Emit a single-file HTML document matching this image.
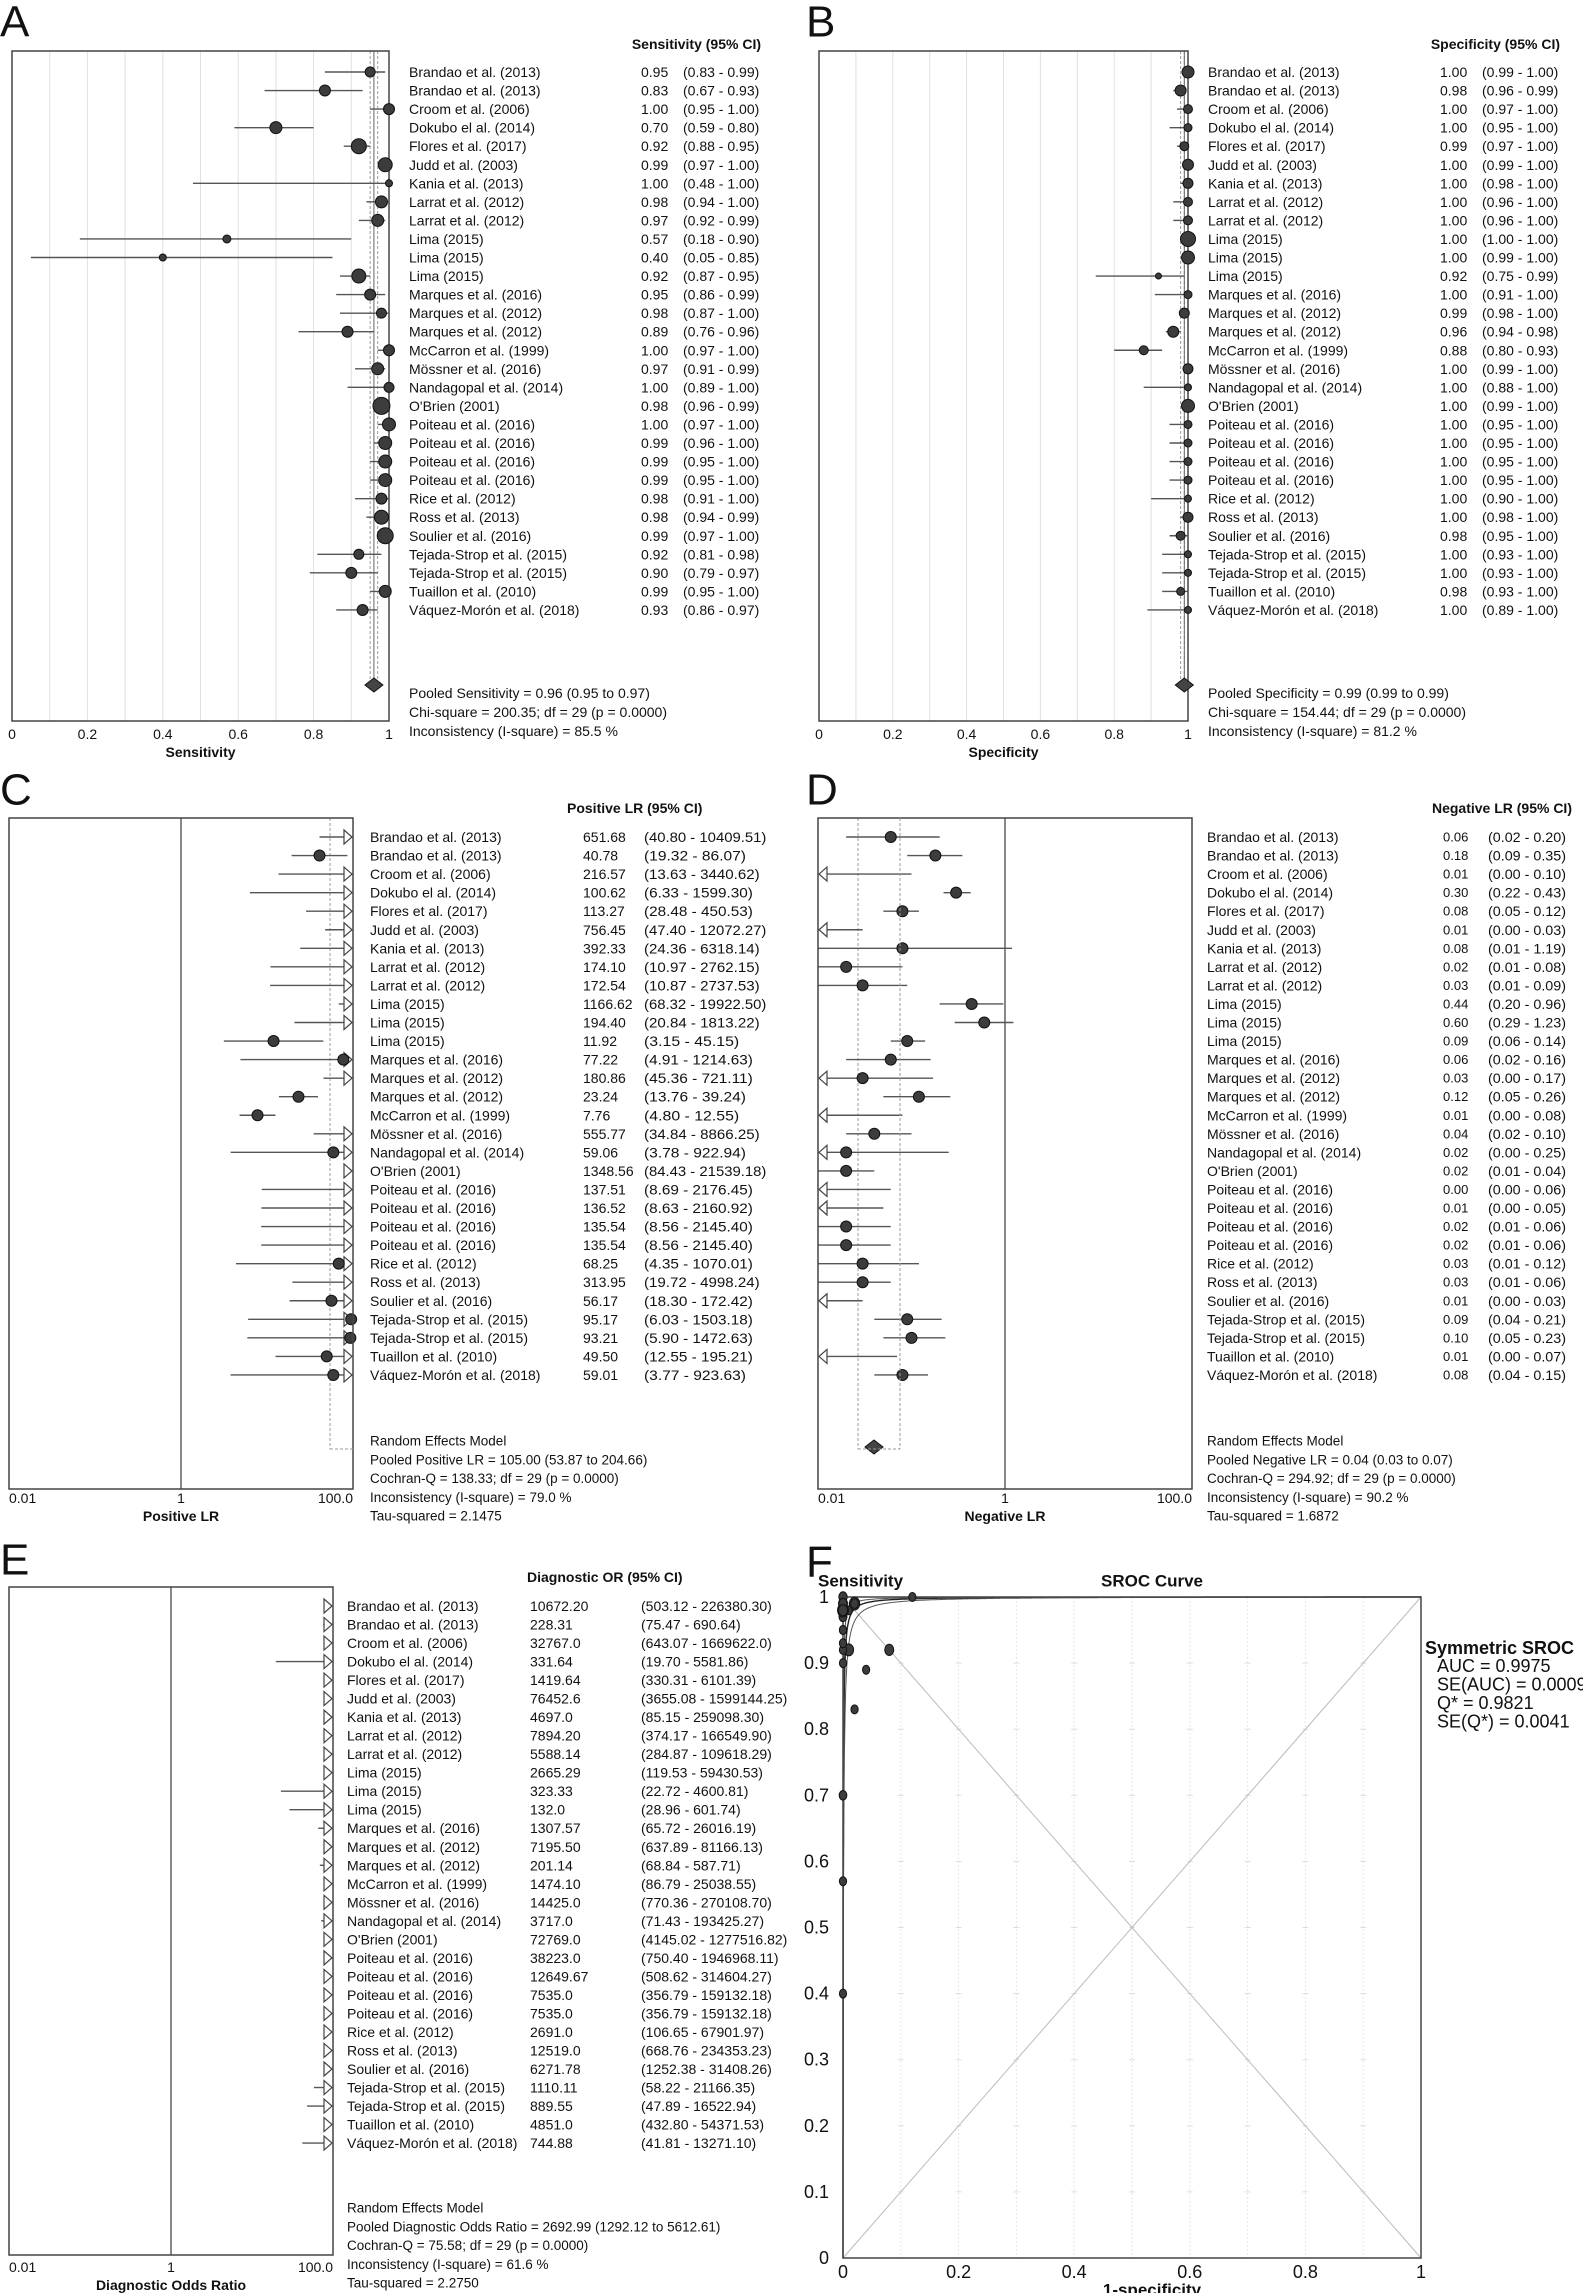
<!DOCTYPE html>
<html><head><meta charset="utf-8"><style>html,body{margin:0;padding:0;background:#fff}svg{display:block}text{font-family:"Liberation Sans",Arial,sans-serif;fill:#111}</style></head>
<body>
<svg id="s" xmlns="http://www.w3.org/2000/svg" width="1583" height="2293" viewBox="0 0 1583 2293"></svg>
<script>
const names=["Brandao et al. (2013)","Brandao et al. (2013)","Croom et al. (2006)","Dokubo el al. (2014)","Flores et al. (2017)","Judd et al. (2003)","Kania et al. (2013)","Larrat et al. (2012)","Larrat et al. (2012)","Lima (2015)","Lima (2015)","Lima (2015)","Marques et al. (2016)","Marques et al. (2012)","Marques et al. (2012)","McCarron et al. (1999)","Mössner et al. (2016)","Nandagopal et al. (2014)","O'Brien (2001)","Poiteau et al. (2016)","Poiteau et al. (2016)","Poiteau et al. (2016)","Poiteau et al. (2016)","Rice et al. (2012)","Ross et al. (2013)","Soulier et al. (2016)","Tejada-Strop et al. (2015)","Tejada-Strop et al. (2015)","Tuaillon et al. (2010)","Váquez-Morón et al. (2018)"];
const A=[["0.95","0.83","0.99",5],["0.83","0.67","0.93",5.5],["1.00","0.95","1.00",5.5],["0.70","0.59","0.80",6],["0.92","0.88","0.95",7.5],["0.99","0.97","1.00",7],["1.00","0.48","1.00",3.5],["0.98","0.94","1.00",6],["0.97","0.92","0.99",6],["0.57","0.18","0.90",4],["0.40","0.05","0.85",3.5],["0.92","0.87","0.95",7],["0.95","0.86","0.99",5.5],["0.98","0.87","1.00",5],["0.89","0.76","0.96",5.5],["1.00","0.97","1.00",5.5],["0.97","0.91","0.99",6],["1.00","0.89","1.00",5],["0.98","0.96","0.99",8.5],["1.00","0.97","1.00",6.5],["0.99","0.96","1.00",6.5],["0.99","0.95","1.00",6.5],["0.99","0.95","1.00",6.5],["0.98","0.91","1.00",5.5],["0.98","0.94","0.99",7],["0.99","0.97","1.00",8],["0.92","0.81","0.98",5],["0.90","0.79","0.97",5.5],["0.99","0.95","1.00",6],["0.93","0.86","0.97",5.5]];
const B=[["1.00","0.99","1.00",6],["0.98","0.96","0.99",5.5],["1.00","0.97","1.00",4.5],["1.00","0.95","1.00",4],["0.99","0.97","1.00",4.5],["1.00","0.99","1.00",5.5],["1.00","0.98","1.00",5],["1.00","0.96","1.00",4.5],["1.00","0.96","1.00",4.5],["1.00","1.00","1.00",7.5],["1.00","0.99","1.00",6.5],["0.92","0.75","0.99",3],["1.00","0.91","1.00",4],["0.99","0.98","1.00",5],["0.96","0.94","0.98",5.5],["0.88","0.80","0.93",4.5],["1.00","0.99","1.00",5],["1.00","0.88","1.00",3.5],["1.00","0.99","1.00",6.5],["1.00","0.95","1.00",4],["1.00","0.95","1.00",4],["1.00","0.95","1.00",4],["1.00","0.95","1.00",4],["1.00","0.90","1.00",3.5],["1.00","0.98","1.00",5],["0.98","0.95","1.00",4.5],["1.00","0.93","1.00",3.5],["1.00","0.93","1.00",3.5],["0.98","0.93","1.00",4],["1.00","0.89","1.00",3.5]];
const C=[["651.68","40.80","10409.51"],["40.78","19.32","86.07"],["216.57","13.63","3440.62"],["100.62","6.33","1599.30"],["113.27","28.48","450.53"],["756.45","47.40","12072.27"],["392.33","24.36","6318.14"],["174.10","10.97","2762.15"],["172.54","10.87","2737.53"],["1166.62","68.32","19922.50"],["194.40","20.84","1813.22"],["11.92","3.15","45.15"],["77.22","4.91","1214.63"],["180.86","45.36","721.11"],["23.24","13.76","39.24"],["7.76","4.80","12.55"],["555.77","34.84","8866.25"],["59.06","3.78","922.94"],["1348.56","84.43","21539.18"],["137.51","8.69","2176.45"],["136.52","8.63","2160.92"],["135.54","8.56","2145.40"],["135.54","8.56","2145.40"],["68.25","4.35","1070.01"],["313.95","19.72","4998.24"],["56.17","18.30","172.42"],["95.17","6.03","1503.18"],["93.21","5.90","1472.63"],["49.50","12.55","195.21"],["59.01","3.77","923.63"]];
const D=[["0.06","0.02","0.20"],["0.18","0.09","0.35"],["0.01","0.00","0.10"],["0.30","0.22","0.43"],["0.08","0.05","0.12"],["0.01","0.00","0.03"],["0.08","0.01","1.19"],["0.02","0.01","0.08"],["0.03","0.01","0.09"],["0.44","0.20","0.96"],["0.60","0.29","1.23"],["0.09","0.06","0.14"],["0.06","0.02","0.16"],["0.03","0.00","0.17"],["0.12","0.05","0.26"],["0.01","0.00","0.08"],["0.04","0.02","0.10"],["0.02","0.00","0.25"],["0.02","0.01","0.04"],["0.00","0.00","0.06"],["0.01","0.00","0.05"],["0.02","0.01","0.06"],["0.02","0.01","0.06"],["0.03","0.01","0.12"],["0.03","0.01","0.06"],["0.01","0.00","0.03"],["0.09","0.04","0.21"],["0.10","0.05","0.23"],["0.01","0.00","0.07"],["0.08","0.04","0.15"]];
const E=[["10672.20","503.12","226380.30"],["228.31","75.47","690.64"],["32767.0","643.07","1669622.0"],["331.64","19.70","5581.86"],["1419.64","330.31","6101.39"],["76452.6","3655.08","1599144.25"],["4697.0","85.15","259098.30"],["7894.20","374.17","166549.90"],["5588.14","284.87","109618.29"],["2665.29","119.53","59430.53"],["323.33","22.72","4600.81"],["132.0","28.96","601.74"],["1307.57","65.72","26016.19"],["7195.50","637.89","81166.13"],["201.14","68.84","587.71"],["1474.10","86.79","25038.55"],["14425.0","770.36","270108.70"],["3717.0","71.43","193425.27"],["72769.0","4145.02","1277516.82"],["38223.0","750.40","1946968.11"],["12649.67","508.62","314604.27"],["7535.0","356.79","159132.18"],["7535.0","356.79","159132.18"],["2691.0","106.65","67901.97"],["12519.0","668.76","234353.23"],["6271.78","1252.38","31408.26"],["1110.11","58.22","21166.35"],["889.55","47.89","16522.94"],["4851.0","432.80","54371.53"],["744.88","41.81","13271.10"]];
let o='';
function t(x,y,s,sz,anc,w,tl){o+=`<text x="${x}" y="${y}" font-size="${sz||14}" text-anchor="${anc||'start'}" font-weight="${w||'normal'}" dominant-baseline="central"${tl?` textLength="${tl}" lengthAdjust="spacingAndGlyphs"`:''}>${s}</text>`;}
function l(x1,y1,x2,y2,c,sw,da){o+=`<line x1="${x1}" y1="${y1}" x2="${x2}" y2="${y2}" stroke="${c||'#555'}" stroke-width="${sw||1.3}"${da?` stroke-dasharray="${da}"`:''}/>`;}
function dot(x,y,r){o+=`<circle cx="${x}" cy="${y}" r="${r}" fill="#3c3c3c" stroke="#111" stroke-width="1"/>`;}
function rect(x,y,w,h,c,sw){o+=`<rect x="${x}" y="${y}" width="${w}" height="${h}" fill="none" stroke="${c||'#444'}" stroke-width="${sw||1.3}"/>`;}
function arR(x,y){o+=`<polygon points="${x-8},${y-7} ${x},${y} ${x-8},${y+7}" fill="#fff" stroke="#444" stroke-width="1.2"/>`;}
function arL(x,y){o+=`<polygon points="${x+8},${y-7} ${x},${y} ${x+8},${y+7}" fill="#fff" stroke="#444" stroke-width="1.2"/>`;}
function diamond(x,y){o+=`<polygon points="${x-9},${y} ${x},${y-7} ${x+9},${y} ${x},${y+7}" fill="#444" stroke="#111"/>`;}
t(0,22,"A",44);t(806,22,"B",44);t(0,790,"C",44);t(806,790,"D",44);t(0,1560,"E",44);t(806,1562,"F",44);
function lin(bx0,bx1,data,hdr,pool,pl,ph,footer,xlab){
  const y0=51,y1=721,sc=v=>bx0+(bx1-bx0)*v;
  for(let k=1;k<10;k++)l(sc(k/10),y0,sc(k/10),y1,'#e0e0e0',1);
  l(sc(pl),y0,sc(pl),685,'#999',1,'3,2');l(sc(ph),y0,sc(ph),685,'#999',1,'3,2');l(sc(pool),y0,sc(pool),685,'#666',1);
  rect(bx0,y0,bx1-bx0,y1-y0,'#444',1.5);
  data.forEach((d,i)=>{const y=72+18.55*i;l(sc(+d[1]),y,sc(+d[2]),y,'#555',1.4);dot(sc(+d[0]),y,d[3]);
    t(bx1+20,y,names[i]);t(bx1+252,y,d[0]);t(bx1+294,y,`(${d[1]} - ${d[2]})`);});
  diamond(sc(pool),685);
  t(bx1+372,44,hdr,14,'end','bold');
  footer.forEach((s,i)=>t(bx1+20,693+19*i,s));
  ["0","0.2","0.4","0.6","0.8","1"].forEach((s,i)=>t(sc(i*0.2),734,s,14,'middle'));
  t((bx0+bx1)/2,752,xlab,14,'middle','bold');
}
lin(12,389,A,"Sensitivity (95% CI)",0.96,0.95,0.97,["Pooled Sensitivity = 0.96 (0.95 to 0.97)","Chi-square = 200.35; df =  29 (p = 0.0000)","Inconsistency (I-square) = 85.5 %"],"Sensitivity");
lin(819,1188,B,"Specificity (95% CI)",0.99,0.98,0.99,["Pooled Specificity = 0.99 (0.99 to 0.99)","Chi-square = 154.44; df =  29 (p = 0.0000)","Inconsistency (I-square) = 81.2 %"],"Specificity");
function logp(bx0,bx1,y0,y1,r0,rs,data,nx,vx,vanc,cx,hdr,hx,hanc,footer,fy,ty,xlab,dash,dashBottom,pool,vsz,cw){
  const cen=(bx0+bx1)/2,dec=(bx1-bx0)/4,sc=v=>cen+dec*Math.log10(v);
  if(dash!==null){l(dash,y0,dash,dashBottom,'#999',1,'3,2');}
  l(cen,y0,cen,y1,'#555',1.4);
  data.forEach((d,i)=>{const y=r0+rs*i;const v=+d[0],lo=+d[1],hi=+d[2];
    const a=lo<0.01?bx0+8:sc(lo), b=hi>100?bx1-8:sc(hi);
    if(lo<100&&hi>0.01&&b>a)l(a,y,b,y,'#555',1.4);
    if(lo<0.01)arL(bx0+1,y);
    if(hi>100)arR(bx1-1,y);
    if(v>0.01&&v<100)dot(sc(v),y,5.5);
    const cs=`(${d[1]} - ${d[2]})`;
    t(nx,y,names[i]);t(vx,y,d[0],vsz||14,vanc);t(cx,y,cs,14,'start','normal',cw?cs.length*cw:0);});
  rect(bx0,y0,bx1-bx0,y1-y0,'#444',1.5);
  if(pool)diamond(pool[0],pool[1]);
  t(hx,y0-10,hdr,14,hanc,'bold');
  footer.forEach((s,i)=>t(nx,fy+18.8*i,s,13.5));
  t(bx0,ty,"0.01",14,'start');t(cen,ty,"1",14,'middle');t(bx1,ty,"100.0",14,'end');
  t(cen,ty+18,xlab,14,'middle','bold');
}
logp(9,353,818,1489,837,18.55,C,370,583,'start',644,"Positive LR (95% CI)",567,'start',["Random Effects Model","Pooled Positive LR = 105.00 (53.87 to 204.66)","Cochran-Q = 138.33; df =  29 (p = 0.0000)","Inconsistency (I-square) = 79.0 %","Tau-squared = 2.1475"],1441,1498,"Positive LR",330,1449,null,14,6.8);
l(330,1449,353,1449,'#999',1,'3,2');
logp(818,1192,818,1489,837,18.55,D,1207,1443,'start',1488,"Negative LR (95% CI)",1572,'end',["Random Effects Model","Pooled Negative LR = 0.04 (0.03 to 0.07)","Cochran-Q = 294.92; df =  29 (p = 0.0000)","Inconsistency (I-square) = 90.2 %","Tau-squared = 1.6872"],1441,1498,"Negative LR",858,1449,[874,1447],13,6);
l(900,818,900,1449,'#999',1,'3,2');l(858,1449,900,1449,'#999',1,'3,2');
logp(9,333,1587,2255,1606,18.52,E,347,530,'start',641,"Diagnostic OR (95% CI)",527,'start',["Random Effects Model","Pooled Diagnostic Odds Ratio = 2692.99 (1292.12 to 5612.61)","Cochran-Q = 75.58; df =  29 (p = 0.0000)","Inconsistency (I-square) = 61.6 %","Tau-squared = 2.2750"],2208,2267,"Diagnostic Odds Ratio",null,0,null,14,0);
(function(){
  const X0=843,X1=1421,Y0=1597,Y1=2258,sx=v=>X0+(X1-X0)*v,sy=v=>Y1-(Y1-Y0)*v;
  for(let k=1;k<10;k++){l(sx(k/10),Y0,sx(k/10),Y1,'#e6e6e6',1,'2,2');}
  for(let k=1;k<10;k++){for(let j=1;j<10;j++){l(sx(k/10)-3,sy(j/10),sx(k/10)+3,sy(j/10),'#ddd',1);}}
  l(sx(0),sy(0),sx(1),sy(1),'#bbb',1);l(sx(0),sy(1),sx(1),sy(0),'#bbb',1);
  [2693,1292,5613].forEach((Dv,k)=>{let p='';for(let i=0;i<=400;i++){const f=Math.pow(i/400,3);const od=Dv*f/(1-f+1e-9);const s=i==400?1:od/(1+od);p+=(i?'L':'M')+sx(f).toFixed(1)+','+sy(s).toFixed(1);}o+=`<path d="${p}" fill="none" stroke="${k?'#555':'#222'}" stroke-width="${k?1:1.4}"/>`;});
  rect(X0,Y0,X1-X0,Y1-Y0,'#444',1.5);
  A.forEach((a,i)=>{const fp=1-(+B[i][0]),se=+a[0];const r=Math.max(4.5,a[3]*0.8);o+=`<ellipse cx="${sx(fp)}" cy="${sy(se)}" rx="${r*0.8}" ry="${r}" fill="#3c3c3c" stroke="#111"/>`;});
  ["0","0.1","0.2","0.3","0.4","0.5","0.6","0.7","0.8","0.9","1"].forEach((s,i)=>t(829,sy(i/10),s,18,'end'));
  ["0","0.2","0.4","0.6","0.8","1"].forEach((s,i)=>t(sx(i*0.2),2272,s,18,'middle'));
  t(1152,2290,"1-specificity",17,'middle','bold');
  t(818,1581,"Sensitivity",17,'start','bold');t(1152,1581,"SROC Curve",17,'middle','bold');
  t(1425,1648,"Symmetric SROC",18,'start','bold');
  ["AUC = 0.9975","SE(AUC) = 0.0009","Q* = 0.9821","SE(Q*) = 0.0041"].forEach((s,i)=>t(1437,1666+18.5*i,s,18));
})();
document.getElementById('s').innerHTML=o;
</script>
</body></html>
